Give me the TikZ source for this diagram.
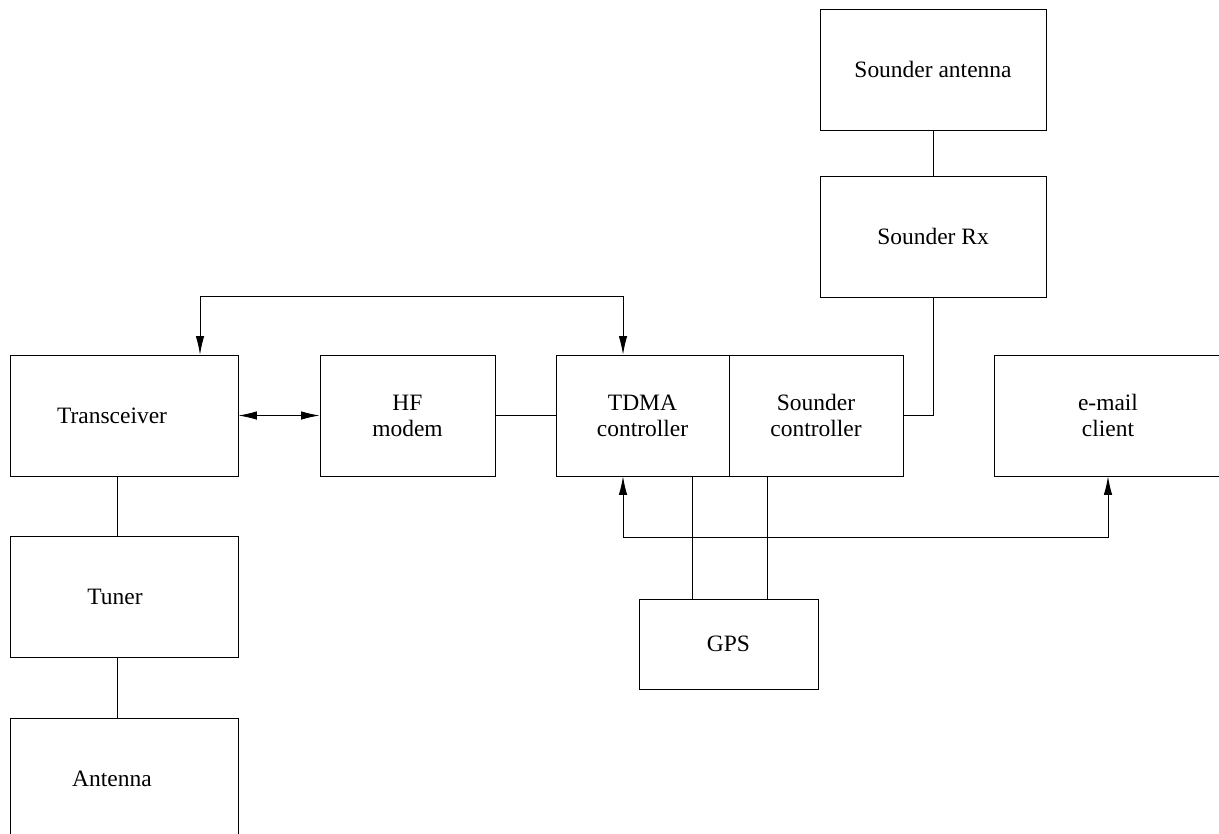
\documentclass[tikz,border=0pt]{standalone}
\usepackage{fontspec}
\setmainfont{Liberation Serif}
\usetikzlibrary{arrows.meta}

\tikzset{
  blk/.style={draw,line width=0.6pt,inner sep=0pt,align=center,
    minimum width=57mm,minimum height=30.25mm,
    font=\fontsize{16.7}{18.5}\selectfont},
  conn/.style={line width=0.6pt},
  dblarr/.style={conn,{Latex[length=4.6mm,width=2.1mm]}-{Latex[length=4.6mm,width=2.1mm]}}
}

\begin{document}
\begin{tikzpicture}[x=0.25mm,y=-0.25mm]
  \useasboundingbox (0,0) rectangle (1219,834);
  \clip (0,0) rectangle (1219,834);

  % radio chain
  \node[blk] (trx) at (124,415.5) {Transceiver\hspace*{6mm}};
  \node[blk] (tuner) at (124,597) {Tuner\hspace*{4.5mm}};
  \node[blk] (ant) at (124,778.5) {Antenna\hspace*{6mm}};
  \node[blk,minimum width=43.75mm] (modem) at (407.5,415.5) {HF\\modem};

  % controllers
  \node[blk,minimum width=43.25mm] (tdma) at (642.5,415.5) {TDMA\\controller};
  \node[blk,minimum width=43.5mm] (sctl) at (816,415.5) {Sounder\\controller};
  \node[blk] (email) at (1108,415.5) {e-mail\\client};
  \node[blk,minimum width=56.5mm] (sant) at (933,69.5) {Sounder antenna};
  \node[blk,minimum width=56.5mm] (srx) at (933,236.5) {Sounder Rx};
  \node[blk,minimum width=44.75mm,minimum height=22.5mm] (gps) at (728.5,644) {GPS};
  \draw[line width=1.2pt,dash pattern=on 2.5pt off 2pt] (tdma.north east) -- (tdma.south east);

  \coordinate (topL) at (200,296);
  \coordinate (topR) at (623,296);
  \coordinate (botL) at (623,537);
  \coordinate (botR) at (1108,537);
  \coordinate (gpsL) at (692,537);
  \coordinate (gpsR) at (767,537);
  \coordinate (chain) at (117,537);

  \draw[conn] (trx.south -| chain) -- (tuner.north -| chain);
  \draw[conn] (tuner.south -| chain) -- (ant.north -| chain);
  \draw[dblarr] (trx.east) -- (modem.west);
  \draw[conn] (modem.east) -- (tdma.west);
  \draw[dblarr] (trx.north -| topL) -- (topL) -- (topR) -- (tdma.north -| topR);
  \draw[dblarr] (tdma.south -| botL) -- (botL) -- (botR) -- (email.south);
  \draw[conn] (sant.south) -- (srx.north);
  \draw[conn] (srx.south) |- (sctl.east);
  \draw[conn] (tdma.south -| gpsL) -- (gps.north -| gpsL);
  \draw[conn] (sctl.south -| gpsR) -- (gps.north -| gpsR);
\end{tikzpicture}
\end{document}
